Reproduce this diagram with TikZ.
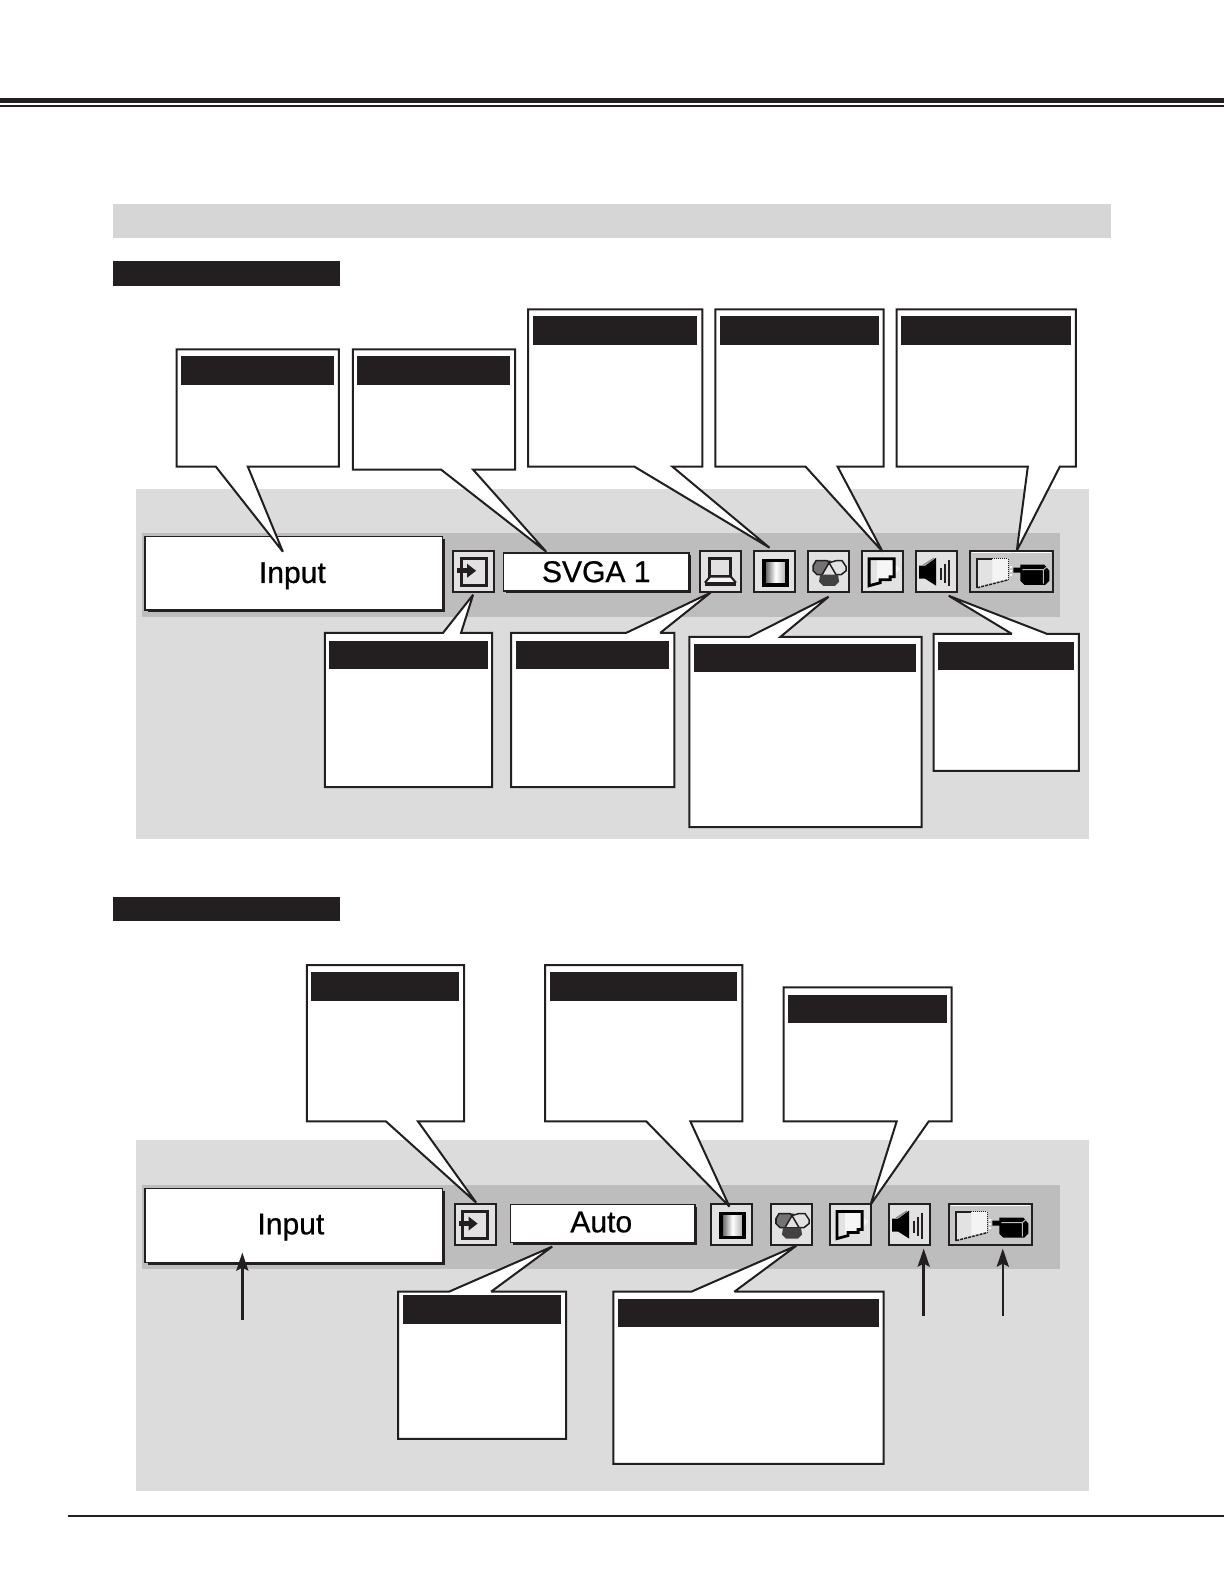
\documentclass[tikz,border=0pt]{standalone}
\usepackage{fontspec}
\setmainfont{Liberation Sans}
\newfontfamily\menufont{Liberation Sans}[RawFeature={embolden=0.7}]
\usetikzlibrary{arrows.meta,shadows}
\definecolor{inkk}{HTML}{231F20}
\definecolor{panelgray}{HTML}{DCDCDC}
\definecolor{stripgray}{HTML}{BDBDBD}
\definecolor{bandgray}{HTML}{D6D6D6}
\definecolor{btngray}{HTML}{E2E2E2}
\tikzset{
  callbox/.style={draw=inkk,fill=white,line width=2pt,line join=miter,miter limit=3,xshift=0.5pt},
  headbar/.style={fill=inkk},
  menubox/.style={draw=inkk,fill=white,line width=1.6pt,inner sep=0pt,
    drop shadow={shadow xshift=2.5pt,shadow yshift=-2.5pt,fill=inkk,opacity=1},
    font=\menufont\fontsize{30}{30}\selectfont},
  btn/.style={draw=inkk,fill=btngray,line width=2pt},
  pointer/.style={draw=inkk,line width=2.4pt,-{Stealth[length=18pt,width=12pt,inset=3pt]}},
}
% box on top, tail going down
\newcommand{\calldown}[8]{
  \draw[callbox] (#1,#2) -- (#3,#2) -- (#3,#4) -- (#6,#4) -- (#7,#8) -- (#5,#4) -- (#1,#4) -- cycle;
}
% box below, tail going up
\newcommand{\callup}[8]{
  \draw[callbox] (#1,#2) -- (#5,#2) -- (#7,#8) -- (#6,#2) -- (#3,#2) -- (#3,#4) -- (#1,#4) -- cycle;
}
\newcommand{\inputicon}[2]{
  \begin{scope}[shift={(#1,#2)}]
    \draw[btn] (0,0) rectangle (41,41);
    \draw[inkk,line width=3pt] (8,8) rectangle (33,35);
    \draw[inkk,line width=5pt] (4,20) -- (15,20);
    \fill[inkk] (14,13) -- (23,20) -- (14,27) -- cycle;
  \end{scope}
}
\newcommand{\laptopicon}[2]{
  \begin{scope}[shift={(#1,#2)}]
    \draw[btn] (0,0) rectangle (41,41);
    \draw[inkk,line width=3pt] (10,8) rectangle (31,26);
    \fill[white!70!btngray] (10,27) -- (31,27) -- (35,32) -- (6,32) -- cycle;
    \draw[inkk,line width=2pt] (10,26) -- (5,32) (31,26) -- (36,32);
    \draw[inkk,line width=3.5pt] (5,33) -- (36,33);
  \end{scope}
}
\newcommand{\bandicon}[2]{
  \begin{scope}[shift={(#1,#2)}]
    \draw[btn] (0,0) rectangle (41,41);
    \shade[left color=black!70,right color=black!35,middle color=white] (10,10) rectangle (33,34);
    \draw[black,line width=3.5pt] (10,10) rectangle (33,34);
  \end{scope}
}
\newcommand{\colouricon}[2]{
  \begin{scope}[shift={(#1,#2)}]
    \draw[btn] (0,0) rectangle (41,41);
    \draw[inkk,fill=btngray,line width=1.5pt] (28,10) -- (34,10) -- (38,16) -- (38,20) -- (33,24) -- (28,24) -- (21,12) -- cycle;
    \draw[inkk,fill=black!55,line width=1.5pt] (8,10) -- (19,10) -- (21,12) -- (14,24) -- (9,24) -- (5,20) -- (5,15) -- cycle;
    \draw[inkk,line width=1.2pt] (13,24.5) -- (29,24.5);
    \fill[inkk!85] (12,24) -- (30,24) -- (31,31) -- (27,35) -- (15,35) -- (11,31) -- cycle;
    \fill[inkk] (19,10) -- (23,10) -- (21,13) -- cycle;
  \end{scope}
}
\newcommand{\lensicon}[2]{
  \begin{scope}[shift={(#1,#2)}]
    \draw[btn] (0,0) rectangle (41,41);
    \fill[white!60!btngray] (32,13) -- (38,18) -- (32,24) -- cycle;
    \fill[white!70!btngray] (15,8) -- (32,8) -- (32,26) -- (15,32) -- cycle;
    \draw[black,line width=2.8pt,line join=miter] (7,8) -- (32,8) -- (32,26) -- (28,26) -- (28,29) -- (18,29) -- (18,32) -- (7,35) -- cycle;
  \end{scope}
}
\newcommand{\speakericon}[2]{
  \begin{scope}[shift={(#1,#2)}]
    \draw[btn] (0,0) rectangle (41,41);
    \fill[black] (3,15) -- (9,15) -- (20,7) -- (20,35) -- (9,28) -- (3,28) -- cycle;
    \draw[black!45,line width=1.5pt] (7,14.5) -- (18,7.5);
    \draw[inkk,line width=1.6pt] (25,17) -- (25,29);
    \draw[inkk,line width=1.8pt] (29,13) -- (29,32);
    \draw[inkk,line width=1.8pt] (33,9) -- (33,35);
  \end{scope}
}
\newcommand{\projicon}[3]{
  \begin{scope}[shift={(#1,#2)}]
    \draw[btn,fill=black!22] (0,0) rectangle (#3,41);
    \draw[white,line width=1.5pt] (2,2) -- ({#3-2},2);
    \fill[btngray] (7,8) -- (38,8) -- (38,29) -- (7,37) -- cycle;
    \fill[white!60!btngray] (22,8) -- (38,8) -- (38,29) -- (22,33) -- cycle;
    \draw[inkk,line width=2pt] (22,8) -- (7,8) -- (7,37);
    \draw[inkk,line width=1.5pt,dash pattern=on 3pt off 1pt] (7,37) -- (38,29);
    \draw[inkk,line width=1pt,densely dotted] (22,8) -- (38,8) -- (38,29);
    \draw[white,line width=2pt,dotted] (41,15) -- (41,26);
    \fill[black] (43,17) -- (50,17) -- (50,14) -- (74,14) -- (79,20) -- (79,30) -- (75,34) -- (54,34) -- (50,30) -- (50,22) -- (43,22) -- cycle;
    \draw[white!70!inkk,line width=1pt] (52,19) -- (73,19) -- (73,33) (73,19) -- (78,15);
  \end{scope}
}
\begin{document}
\begin{tikzpicture}[x=1pt,y=-1pt]
  \useasboundingbox (0,0) rectangle (1222,1568);

  % page rules and bands
  \fill[inkk] (0,98) rectangle (1222,103);
  \fill[inkk] (0,105) rectangle (1222,106.5);
  \fill[inkk] (68,1513) rectangle (1222,1514.8);
  \fill[bandgray] (113,204) rectangle (1109.7,238);
  \fill[headbar] (113,261) rectangle (339.7,286);
  \fill[headbar] (113,896) rectangle (339.7,920);

  % first panel
  \fill[panelgray] (136,488) rectangle (1087.7,837.5);
  \fill[stripgray] (142,532) rectangle (1059,616);
  \node[menubox,minimum width=297pt,minimum height=73pt] (inputa) at (293.5,572.5) {\hspace*{-3pt}\raisebox{-2.5pt}[\height][\depth]{Input}};
  \node[menubox,minimum width=185pt,minimum height=38pt] (svga) at (595.5,571) {SVGA 1};
  \inputicon{452.5}{550}
  \laptopicon{699}{550}
  \bandicon{753}{550}
  \colouricon{807}{550}
  \lensicon{861}{550}
  \speakericon{915}{550}
  \projicon{969}{550}{83}
  \calldown{176}{349}{338}{466}{215}{247}{282}{551}
  \calldown{352}{349}{514}{469}{440}{472}{545}{551}
  \calldown{527}{309}{701}{466}{633}{671}{768}{547}
  \calldown{714}{309}{882}{466}{804}{836}{881}{551}
  \calldown{895}{309}{1074}{466}{1026}{1058}{1015}{550}
  \callup{324}{632}{491}{786}{442}{460}{472}{594}
  \callup{510}{632}{673}{786}{625}{659}{709}{592}
  \callup{688}{636}{920}{826}{748}{779}{827}{596}
  \callup{932}{633}{1077}{770}{1010}{1045}{947}{595}
  \fill[headbar] (181,356) rectangle (333.5,385);
  \fill[headbar] (357,356) rectangle (509.5,385);
  \fill[headbar] (532,316) rectangle (696,345);
  \fill[headbar] (719,316) rectangle (877.5,345);
  \fill[headbar] (900,316) rectangle (1070,345);
  \fill[headbar] (329,640) rectangle (487,668);
  \fill[headbar] (515,640) rectangle (668,668);
  \fill[headbar] (693,643) rectangle (915,671);
  \fill[headbar] (937,641) rectangle (1072.5,669);

  % second panel
  \fill[panelgray] (136,1139) rectangle (1087.7,1489);
  \fill[stripgray] (142,1183) rectangle (1059,1267);
  \node[menubox,minimum width=297pt,minimum height=74pt] (inputb) at (293.5,1224) {\hspace*{-6pt}\raisebox{-1.5pt}[\height][\depth]{Input}};
  \node[menubox,minimum width=184pt,minimum height=38pt] (auto) at (602,1222) {\hspace*{-3pt}\raisebox{1.5pt}[\height][\depth]{Auto}};
  \inputicon{454}{1202}
  \bandicon{710}{1202}
  \colouricon{770}{1202}
  \lensicon{829}{1202}
  \speakericon{888}{1202}
  \projicon{948}{1202}{83}
  \calldown{306}{964}{463}{1120}{385}{417}{475}{1201}
  \calldown{544}{964}{741}{1120}{645}{689}{728}{1205}
  \calldown{782}{986}{950}{1120}{895}{927}{869}{1203}
  \callup{397}{1290}{565}{1437}{448}{490}{551}{1245}
  \callup{612}{1290}{882}{1462}{690}{733}{795}{1244}
  \fill[headbar] (311,971) rectangle (458.5,1000);
  \fill[headbar] (549,971) rectangle (736,1000);
  \fill[headbar] (787,994) rectangle (945.5,1022);
  \fill[headbar] (402,1293) rectangle (560.5,1322);
  \fill[headbar] (617,1297) rectangle (877.5,1325);

  % free arrows
  \coordinate (inputfoot) at (242,1318);
  \coordinate (inputtip) at (242,1251);
  \coordinate (speakerfoot) at (922.5,1314);
  \coordinate (speakertip) at (922.5,1247);
  \coordinate (projfoot) at (1001.5,1314);
  \coordinate (projtip) at (1001.5,1247);
  \draw[pointer] (inputfoot) -- (inputtip);
  \draw[pointer] (speakerfoot) -- (speakertip);
  \draw[pointer] (projfoot) -- (projtip);
\end{tikzpicture}
\end{document}
